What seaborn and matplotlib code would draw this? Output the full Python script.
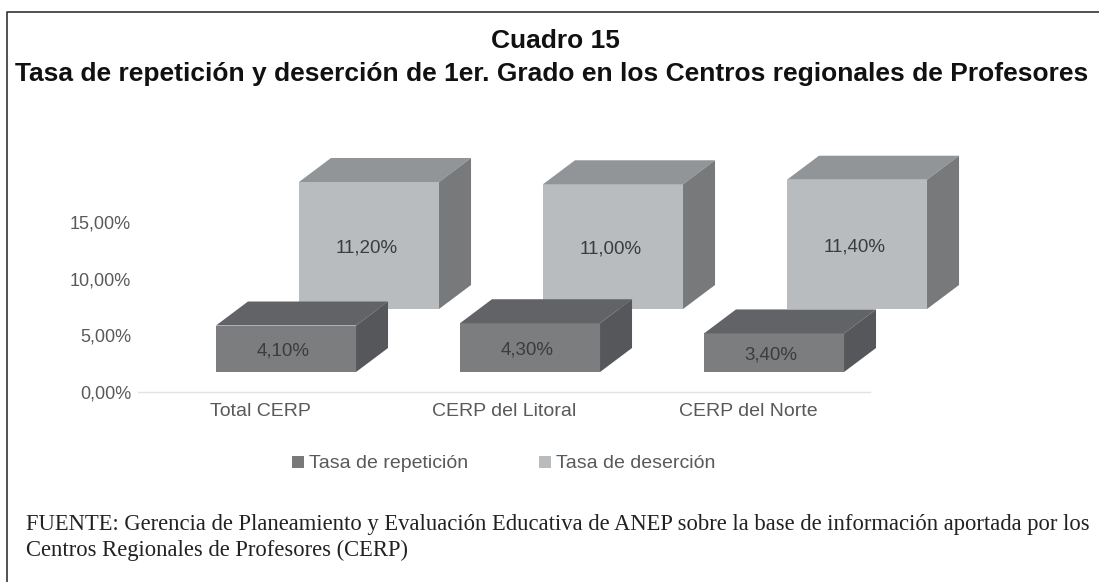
import matplotlib
matplotlib.use('Agg')
import matplotlib.pyplot as plt
from matplotlib.lines import Line2D
from matplotlib.patches import Polygon, Rectangle
import pandas as pd
import seaborn as sns

categories = ['Total CERP', 'CERP del Litoral', 'CERP del Norte']
repeticion = [4.1, 4.3, 3.4]
desercion = [11.2, 11.0, 11.4]
rep_labels = ['4,10%', '4,30%', '3,40%']
des_labels = ['11,20%', '11,00%', '11,40%']
y_ticks = [0, 5, 10, 15]
y_tick_labels = ['0,00%', '5,00%', '10,00%', '15,00%']

W, H = 1099, 582
# plot box in pixels, measured from the top left corner
left, right, base, top = 138, 870, 392, 155
ymax = (base - top) / 11.34
depth_x, depth_y = 32, 24

sns.set_theme(style='white')
plt.rcParams['font.family'] = ['Liberation Sans', 'DejaVu Sans']

fig = plt.figure(figsize=(W / 100, H / 100), dpi=100, facecolor='white')


def box_axes(shift_x, shift_y, z):
    ax = fig.add_axes([(left + shift_x) / W, (H - base + shift_y) / H,
                       (right - left) / W, (base - top) / H], zorder=z)
    ax.patch.set_alpha(0)
    return ax


def bars_3d(values, labels, front, roof, side, shift_x, shift_y, z):
    # every series sits on its own transparent axes, moved back in depth
    ax = box_axes(shift_x, shift_y, z)
    df = pd.DataFrame({'cat': categories, 'val': values})
    sns.barplot(df, x='cat', y='val', color=front, saturation=1, width=0.574, ax=ax)
    ax.set_ylim(0, ymax)
    ax.axis('off')
    # page clip, the tallest box is cut off at the top of the chart in the original
    clip = Rectangle((0, 0), W, H - top, transform=None)
    for bar, label in zip(ax.patches, labels):
        x0, x1 = bar.get_x(), bar.get_x() + bar.get_width()
        y1 = bar.get_height()
        (px0, py0), (px1, py1) = ax.transData.transform([(x0, 0), (x1, y1)])
        bar.set_edgecolor('none')
        top_face = [(px0, py1), (px1, py1), (px1 + depth_x, py1 + depth_y), (px0 + depth_x, py1 + depth_y)]
        side_face = [(px1, py0), (px1 + depth_x, py0 + depth_y), (px1 + depth_x, py1 + depth_y), (px1, py1)]
        for pts, c in ((top_face, roof), (side_face, side)):
            face = Polygon(pts, closed=True, facecolor=c, edgecolor='none', transform=None, clip_on=True)
            ax.add_artist(face)
            face.set_clip_path(clip)
        ax.text(x0 + (x1 - x0) * 0.48, y1 / 2 - 0.2, label, ha='center', va='center',
                fontsize=13.5, color='#3a3c3e')
    return ax


# axis with tick labels and categories
base_ax = box_axes(0, 0, 1)
frame = pd.DataFrame({'cat': categories, 'val': [0, 0, 0]})
sns.barplot(frame, x='cat', y='val', ax=base_ax, color='white')
base_ax.set_ylim(0, ymax)
base_ax.set_yticks(y_ticks, y_tick_labels)
base_ax.set_xlabel('')
base_ax.set_ylabel('')
sns.despine(ax=base_ax, left=True)
base_ax.spines['bottom'].set_color('#e2e2e2')
base_ax.spines['bottom'].set_linewidth(1)
base_ax.tick_params(axis='y', length=0, pad=5, labelsize=13, labelcolor='#58595b')
base_ax.tick_params(axis='x', length=0, pad=8, labelsize=14, labelcolor='#58595b')

bars_3d(desercion, des_labels, '#b9bcbf', '#929597', '#77797b', 109, 83, 2)
bars_3d(repeticion, rep_labels, '#7b7d7f', '#626366', '#55575a', 26, 20, 3)

# legend
legend_items = [('Tasa de repetición', '#77797b', 292), ('Tasa de deserción', '#b9bcbf', 539)]
for name, c, px in legend_items:
    fig.add_artist(Rectangle((px / W, 1 - 468 / H), 12 / W, 12 / H, transform=fig.transFigure,
                             facecolor=c, edgecolor='none'))
    fig.text((px + 17) / W, 1 - 468 / H, name, fontsize=14, color='#58595b', va='baseline')

# titles and source
fig.text(555 / W, 1 - 48 / H, 'Cuadro 15', fontsize=19, fontweight='bold', ha='center', va='baseline', color='#111111')
fig.text(551.5 / W, 1 - 81 / H, 'Tasa de repetición y deserción de 1er. Grado en los Centros regionales de Profesores',
         fontsize=19, fontweight='bold', ha='center', va='baseline', color='#111111')
fig.text(26 / W, 1 - 530 / H,
         'FUENTE: Gerencia de Planeamiento y Evaluación Educativa de ANEP sobre la base de información aportada por los',
         fontsize=16.25, family='Liberation Serif', va='baseline', color='#222222')
fig.text(26 / W, 1 - 556 / H, 'Centros Regionales de Profesores (CERP)',
         fontsize=16.25, family='Liberation Serif', va='baseline', color='#222222')

# outer frame: only the top and the left side are drawn
fig.add_artist(Line2D([7 / W, 7 / W, 1], [0, 1 - 11.5 / H, 1 - 11.5 / H], transform=fig.transFigure,
                      color='#333333', linewidth=1.2))

fig.savefig('out.png', dpi=100)
